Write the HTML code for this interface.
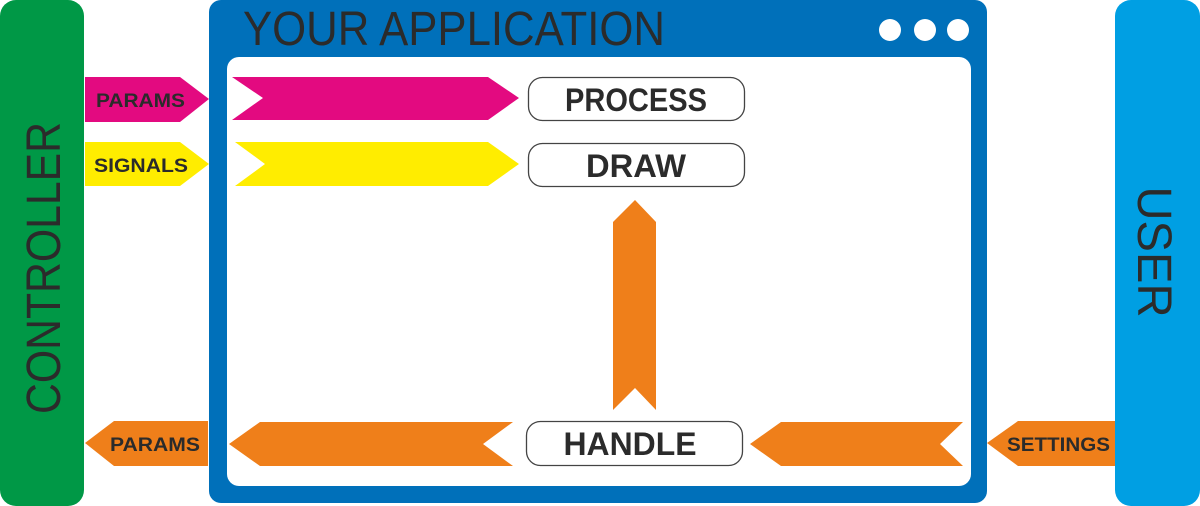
<!DOCTYPE html>
<html><head><meta charset="utf-8"><style>
html,body{margin:0;padding:0;background:#fff;}
svg{display:block;}
text{font-family:"Liberation Sans",sans-serif;}
.b{font-weight:bold;fill:#2b2b2b;}
</style></head><body>
<svg width="1200" height="506" viewBox="0 0 1200 506" xmlns="http://www.w3.org/2000/svg">
<rect x="0" y="0" width="84" height="506" rx="16" fill="#009846"/>
<rect x="1115" y="0" width="85" height="506" rx="16" fill="#009fe3"/>
<rect x="209" y="0" width="778" height="503" rx="12" fill="#0070ba"/>
<rect x="227" y="57" width="744" height="429" rx="12" fill="#fff"/>
<text x="243" y="45" font-size="48" fill="#2b2b2b" textLength="422" lengthAdjust="spacingAndGlyphs">YOUR APPLICATION</text>
<circle cx="890" cy="30" r="11" fill="#fff"/>
<circle cx="925" cy="30" r="11" fill="#fff"/>
<circle cx="958" cy="30" r="11" fill="#fff"/>
<text transform="translate(60,268) rotate(-90)" text-anchor="middle" font-size="48" fill="#2b2b2b" textLength="292" lengthAdjust="spacingAndGlyphs">CONTROLLER</text>
<text transform="translate(1138,252) rotate(90)" text-anchor="middle" font-size="48" fill="#2b2b2b" textLength="131" lengthAdjust="spacingAndGlyphs">USER</text>
<!-- outer arrows -->
<polygon points="85,77 180,77 209,99 180,122 85,122" fill="#e30a80"/>
<polygon points="85,142 180,142 209,164 180,186 85,186" fill="#ffed00"/>
<polygon points="114,421 208,421 208,466 114,466 85,443" fill="#ef7f1a"/>
<polygon points="1018,421 1115,421 1115,466 1018,466 987,443" fill="#ef7f1a"/>
<text class="b" x="96" y="107" font-size="19" textLength="89" lengthAdjust="spacingAndGlyphs">PARAMS</text>
<text class="b" x="94" y="172" font-size="19" textLength="94" lengthAdjust="spacingAndGlyphs">SIGNALS</text>
<text class="b" x="110" y="451" font-size="19" textLength="90" lengthAdjust="spacingAndGlyphs">PARAMS</text>
<text class="b" x="1007" y="451" font-size="19" textLength="103" lengthAdjust="spacingAndGlyphs">SETTINGS</text>
<!-- inner arrows -->
<polygon points="232,77 488,77 519,98 488,120 232,120 263,98" fill="#e30a80"/>
<polygon points="235,142 488,142 519,164 488,186 235,186 265,164" fill="#ffed00"/>
<polygon points="260,422 513,422 483,444 513,466 260,466 229,444" fill="#ef7f1a"/>
<polygon points="781,422 963,422 940,444 963,466 781,466 750,444" fill="#ef7f1a"/>
<polygon points="613,222 635,200 656,222 656,410 635,388 613,410" fill="#ef7f1a"/>
<!-- boxes -->
<rect x="528.5" y="77.5" width="216" height="43" rx="14" fill="#fff" stroke="#444" stroke-width="1.3"/>
<rect x="528.5" y="143.5" width="216" height="43" rx="14" fill="#fff" stroke="#444" stroke-width="1.3"/>
<rect x="526.5" y="421.5" width="216" height="44" rx="14" fill="#fff" stroke="#444" stroke-width="1.3"/>
<text class="b" x="636" y="111" font-size="32" text-anchor="middle" textLength="142" lengthAdjust="spacingAndGlyphs">PROCESS</text>
<text class="b" x="636" y="177" font-size="32" text-anchor="middle" textLength="100" lengthAdjust="spacingAndGlyphs">DRAW</text>
<text class="b" x="630" y="455" font-size="32" text-anchor="middle" textLength="133" lengthAdjust="spacingAndGlyphs">HANDLE</text>
</svg>
</body></html>
